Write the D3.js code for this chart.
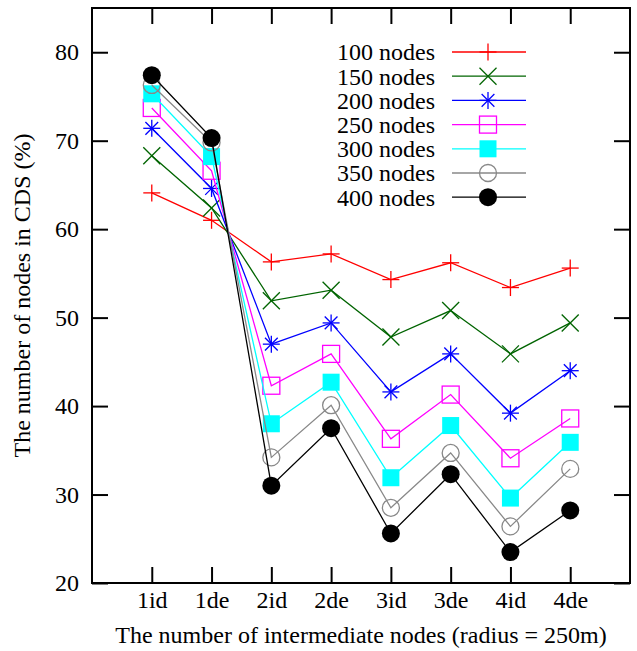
<!DOCTYPE html>
<html>
<head>
<meta charset="utf-8">
<script src="https://cdn.jsdelivr.net/npm/d3@7"></script>
<style>
  body { margin: 0; background: #fff; }
  svg text { font-family: "Liberation Serif", "Times New Roman", serif; }
  .tick text { font-size: 24px; fill: #000; }
</style>
</head>
<body>
<div id="chart"></div>
<script>
// Categories on the x axis
const categories = ['1id', '1de', '2id', '2de', '3id', '3de', '4id', '4de']
const yTicks = [20, 30, 40, 50, 60, 70, 80]

// Series values (% of nodes in CDS)
const seriesNames = ['100 nodes', '150 nodes', '200 nodes', '250 nodes', '300 nodes', '350 nodes', '400 nodes']
const nodes100 = [64.1, 61.0, 56.3, 57.2, 54.3, 56.2, 53.4, 55.6]
const nodes150 = [68.3, 62.4, 51.9, 53.1, 47.8, 50.8, 45.9, 49.4]
const nodes200 = [71.4, 64.6, 47.0, 49.4, 41.6, 45.9, 39.2, 44.0]
const nodes250 = [73.7, 66.6, 42.3, 45.9, 36.3, 41.3, 34.1, 38.6]
const nodes300 = [75.3, 68.2, 38.0, 42.7, 31.9, 37.8, 29.6, 35.9]
const nodes350 = [76.3, 69.8, 34.2, 40.1, 28.5, 34.7, 26.4, 32.9]
const nodes400 = [77.4, 70.3, 31.0, 37.5, 25.6, 32.3, 23.5, 28.2]

const seriesValues = [nodes100, nodes150, nodes200, nodes250, nodes300, nodes350, nodes400]
const colors = ['#ff0000', '#006400', '#0000ff', '#ff00ff', '#00ffff', '#888888', '#000000']
const markers = ['plus', 'cross', 'star', 'square', 'fsquare', 'circle', 'fcircle']

const drawChart = () => {
  const margin = { top: 8, right: 7, bottom: 68, left: 92 }
  const width = 637
  const height = 651
  const innerWidth = width - margin.left - margin.right
  const innerHeight = height - margin.top - margin.bottom

  const svg = d3.select('#chart')
    .append('svg')
    .attr('width', width)
    .attr('height', height)

  const g = svg.append('g')
    .attr('transform', `translate(${margin.left}, ${margin.top})`)

  const x = d3.scaleLinear().domain([0, categories.length + 1]).range([0, innerWidth])
  const y = d3.scaleLinear().domain([20, 85]).range([innerHeight, 0])
  const xIdx = categories.map((c, i) => i + 1)

  // Axes with inward ticks on all four sides
  const axisStyle = sel => {
    sel.attr('font-family', null).attr('font-size', null)
    sel.select('.domain').remove()
    sel.selectAll('.tick line').attr('stroke', '#000').attr('stroke-width', 2)
  }

  g.append('g')
    .call(d3.axisLeft(y).tickValues(yTicks).tickSize(-16).tickPadding(13))
    .call(axisStyle)

  g.append('g')
    .attr('transform', `translate(${innerWidth}, 0)`)
    .call(d3.axisRight(y).tickValues(yTicks).tickSize(-16).tickFormat(''))
    .call(axisStyle)

  g.append('g')
    .attr('transform', `translate(0, ${innerHeight})`)
    .call(d3.axisBottom(x).tickValues(xIdx).tickSize(-16).tickPadding(8)
      .tickFormat(i => categories[i - 1]))
    .call(axisStyle)

  g.append('g')
    .call(d3.axisTop(x).tickValues(xIdx).tickSize(-16).tickFormat(''))
    .call(axisStyle)

  // Frame
  g.append('rect')
    .attr('width', innerWidth)
    .attr('height', innerHeight)
    .attr('fill', 'none')
    .attr('stroke', '#000')
    .attr('stroke-width', 2)

  // Axis titles
  svg.append('text')
    .attr('x', margin.left + innerWidth / 2)
    .attr('y', 643)
    .attr('text-anchor', 'middle')
    .attr('font-size', 24)
    .text('The number of intermediate nodes (radius = 250m)')

  svg.append('text')
    .attr('transform', `translate(30, ${margin.top + innerHeight / 2}) rotate(-90)`)
    .attr('text-anchor', 'middle')
    .attr('font-size', 24)
    .text('The number of nodes in CDS (%)')

  // Marker drawing
  const drawMarker = (sel, type, color, cx, cy) => {
    const r = 8.5
    const m = sel.append('g').attr('transform', `translate(${cx}, ${cy})`)
    const seg = (x1, y1, x2, y2) => {
      m.append('line').attr('x1', x1).attr('y1', y1).attr('x2', x2).attr('y2', y2)
        .attr('stroke', color).attr('stroke-width', 1.3)
    }
    if (type === 'plus' || type === 'star') {
      seg(-r, 0, r, 0)
      seg(0, -r, 0, r)
    }
    if (type === 'cross' || type === 'star') {
      const d = type === 'star' ? r * 0.75 : r
      seg(-d, -d, d, d)
      seg(-d, d, d, -d)
    }
    if (type === 'square') {
      m.append('rect').attr('x', -r).attr('y', -r).attr('width', 2 * r).attr('height', 2 * r)
        .attr('fill', 'none').attr('stroke', color).attr('stroke-width', 1.3)
    }
    if (type === 'fsquare') {
      m.append('rect').attr('x', -r).attr('y', -r).attr('width', 2 * r).attr('height', 2 * r)
        .attr('fill', color)
    }
    if (type === 'circle') {
      m.append('circle').attr('r', r).attr('fill', 'none').attr('stroke', color).attr('stroke-width', 1.3)
    }
    if (type === 'fcircle') {
      m.append('circle').attr('r', r + 0.5).attr('fill', color)
    }
  }

  const line = d3.line()
    .x((d, i) => x(i + 1))
    .y(d => y(d))

  seriesValues.forEach((vals, s) => {
    const sg = g.append('g')
    sg.append('path')
      .datum(vals)
      .attr('fill', 'none')
      .attr('stroke', colors[s])
      .attr('stroke-width', 1.3)
      .attr('d', line)
    vals.forEach((v, i) => drawMarker(sg, markers[s], colors[s], x(i + 1), y(v)))
  })

  // Legend
  const legend = svg.append('g').attr('transform', 'translate(0, 52)')
  seriesNames.forEach((name, s) => {
    const row = legend.append('g').attr('transform', `translate(0, ${s * 24.2})`)
    row.append('text')
      .attr('x', 435)
      .attr('y', 0)
      .attr('dy', '0.35em')
      .attr('text-anchor', 'end')
      .attr('font-size', 24)
      .text(name)
    row.append('line')
      .attr('x1', 452).attr('x2', 526)
      .attr('stroke', colors[s])
      .attr('stroke-width', 1.3)
    drawMarker(row, markers[s], colors[s], 488, 0)
  })
}

drawChart()
</script>
</body>
</html>
